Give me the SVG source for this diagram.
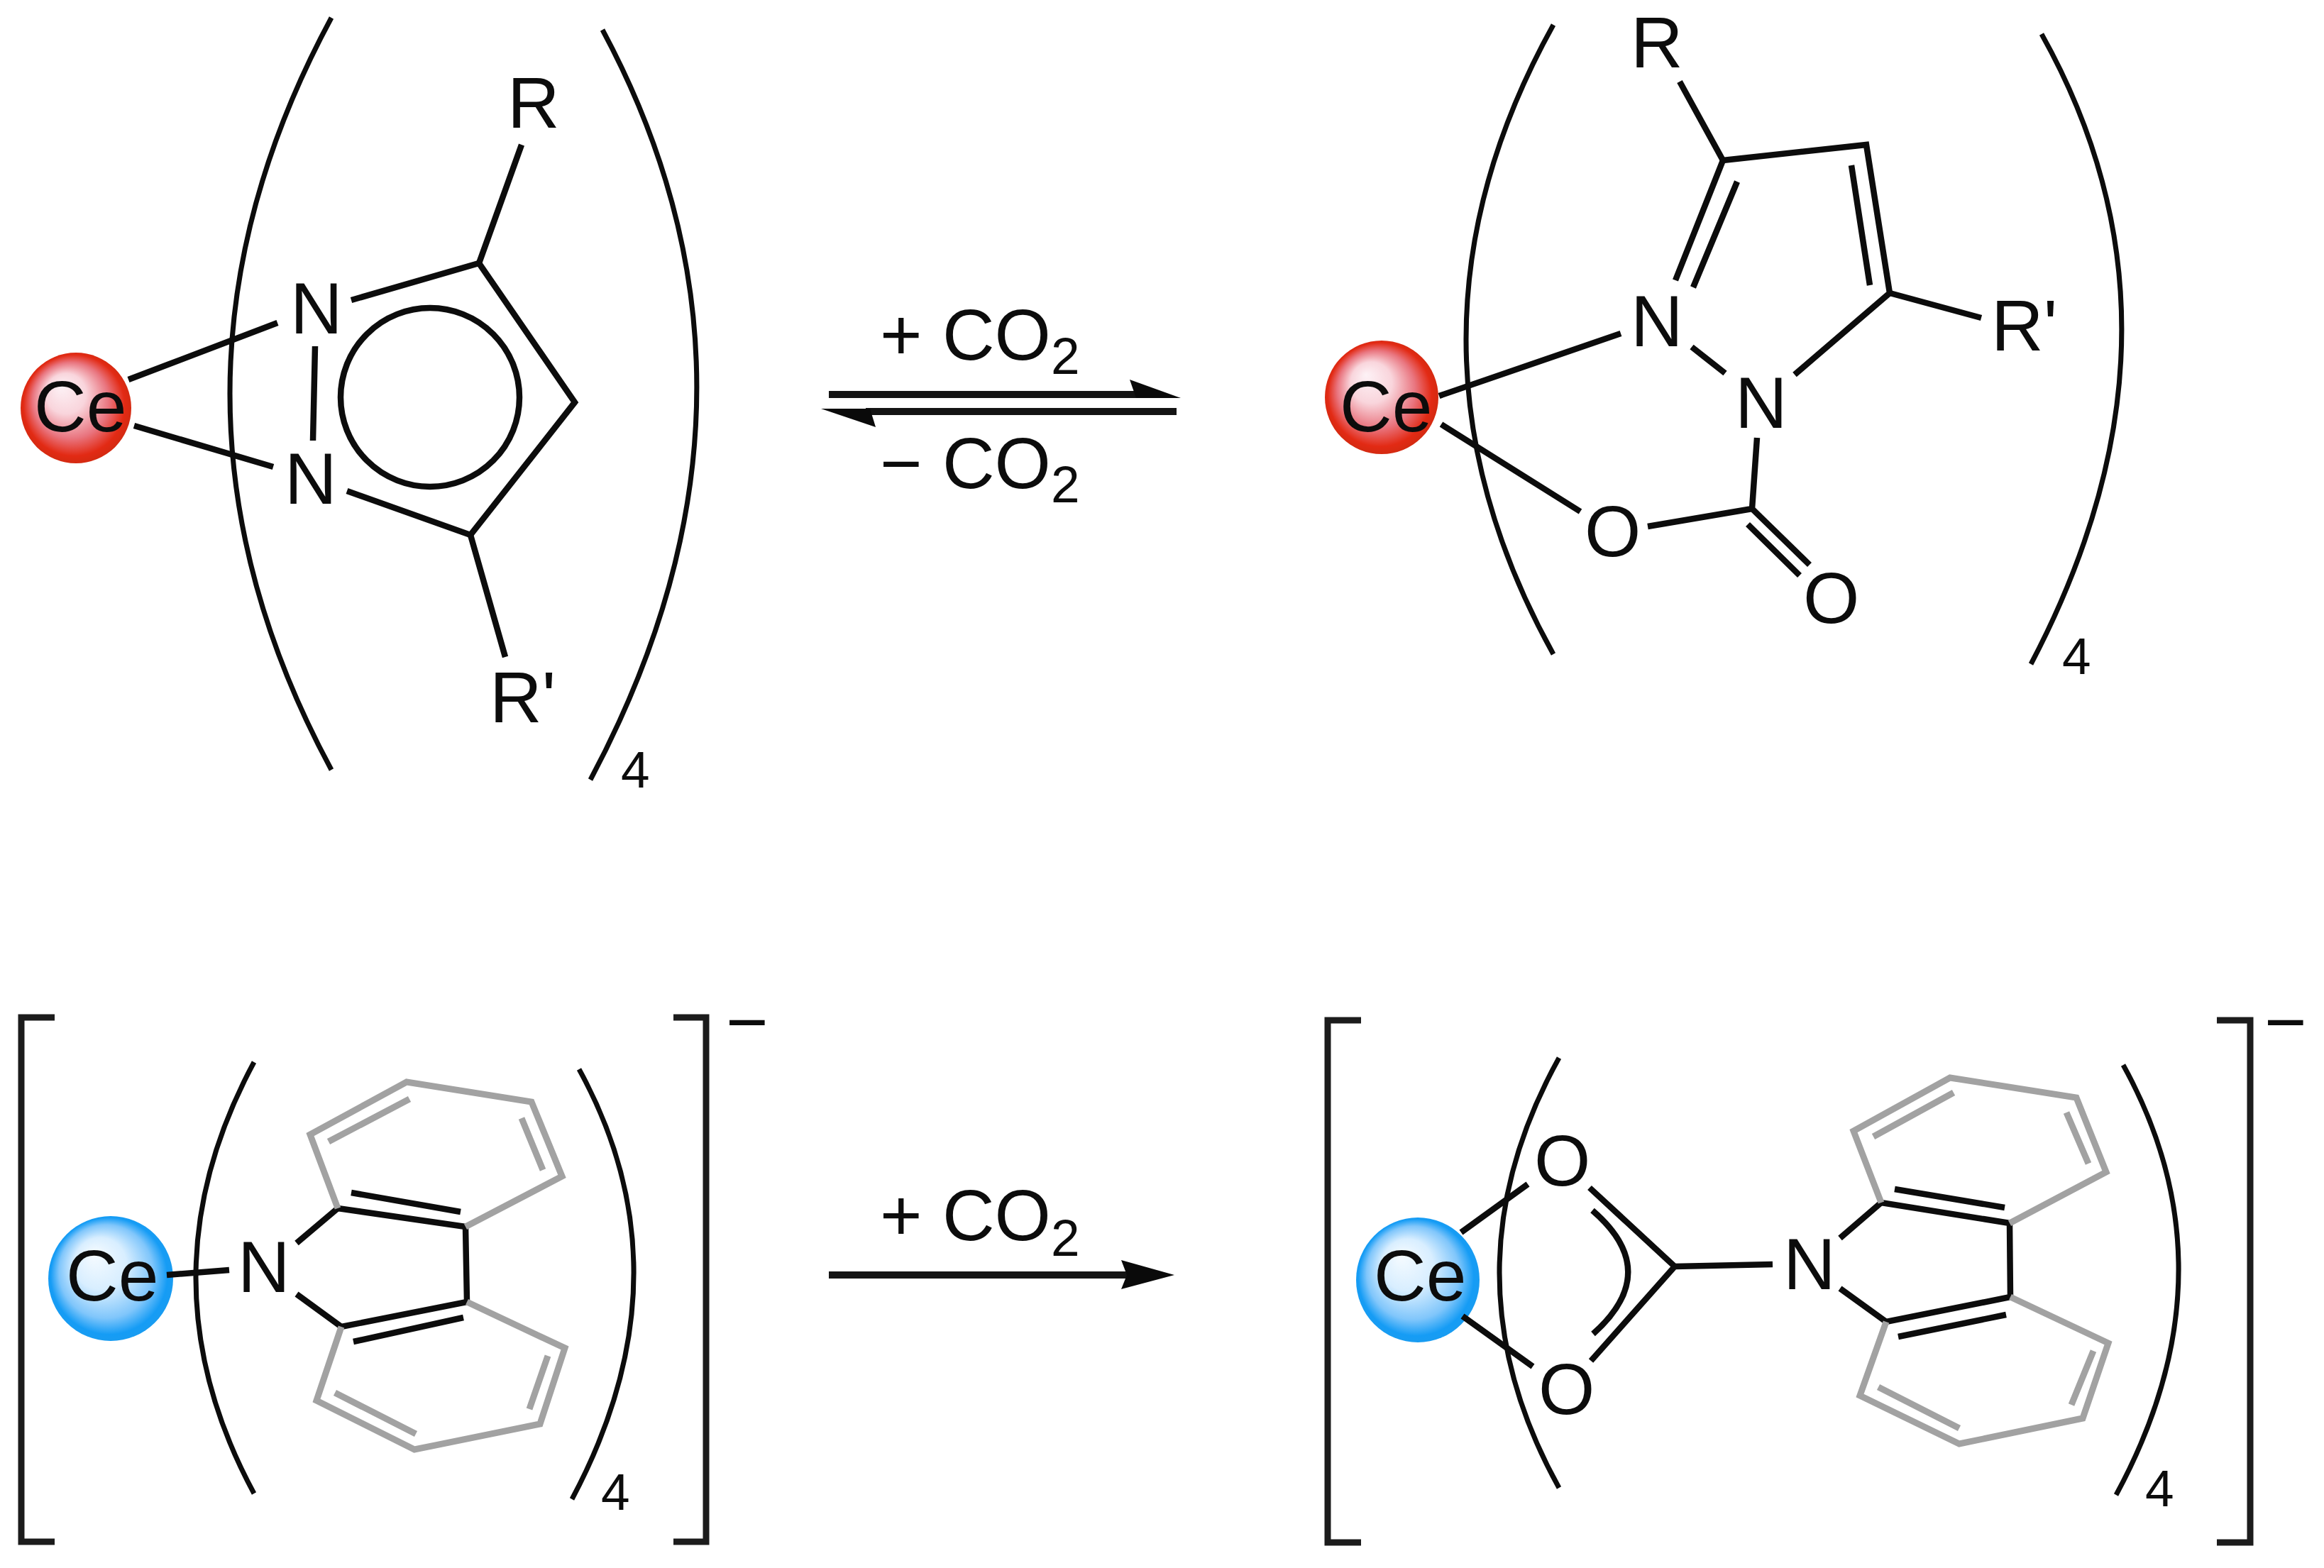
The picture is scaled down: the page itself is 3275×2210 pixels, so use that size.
<svg xmlns="http://www.w3.org/2000/svg" width="3275" height="2210" viewBox="0 0 3275 2210">
<style>
.t{font-family:"Liberation Sans",Arial,sans-serif;font-size:102px;fill:#0c0c0c}
.s{font-size:73px}
.b{fill:none;stroke:#0c0c0c;stroke-width:8.5}
.p{fill:none;stroke:#0c0c0c;stroke-width:7}
.g{fill:none;stroke:#a2a2a2;stroke-width:9;stroke-linejoin:miter}
.br{fill:none;stroke:#1c1c1c;stroke-width:9}
.a{fill:#0a0a0a}
.l{fill:none;stroke:#141414;stroke-width:10}
</style>
<defs>
<radialGradient id="red" cx="0.5" cy="0.5" r="0.52" fx="0.36" fy="0.3">
<stop offset="0" stop-color="#fdf2f6"/><stop offset="0.35" stop-color="#f9d5dc"/><stop offset="0.66" stop-color="#e9757f"/><stop offset="0.88" stop-color="#e22a14"/><stop offset="1" stop-color="#d02a10"/>
</radialGradient>
<radialGradient id="blue" cx="0.5" cy="0.5" r="0.52" fx="0.36" fy="0.3">
<stop offset="0" stop-color="#f6fbff"/><stop offset="0.4" stop-color="#d8eeff"/><stop offset="0.72" stop-color="#80c6fb"/><stop offset="0.9" stop-color="#159cf5"/><stop offset="1" stop-color="#1a9cf0"/>
</radialGradient>
</defs>

<g id="ce-1"><circle cx="107" cy="575" r="78" fill="url(#red)"/><text class="t" x="48" y="608">Ce</text></g>
<g id="ce-2"><circle cx="1947" cy="560" r="80" fill="url(#red)"/><text class="t" x="1888" y="608">Ce</text></g>
<g id="ce-3"><circle cx="156" cy="1802" r="88" fill="url(#blue)"/><text class="t" x="93" y="1833">Ce</text></g>
<g id="ce-4"><ellipse cx="1998" cy="1804" rx="87" ry="88" fill="url(#blue)"/><text class="t" x="1936" y="1833">Ce</text></g>

<g id="connectors">
<g id="brackets">
<path class="p" d="M467 25Q181 555 467 1085"/>
<path class="p" d="M849 42Q1123 553 832 1099"/>
<path class="p" d="M2189 35Q1943 478 2189 922"/>
<path class="p" d="M2877 48Q3110 464 2862 936"/>
<path class="p" d="M358 1497Q194 1801 358 2105"/>
<path class="p" d="M816 1507Q975 1796 806 2113"/>
<path class="p" d="M2197 1491Q2029 1794 2197 2097"/>
<path class="p" d="M2992 1501Q3153 1792 2982 2107"/>
<path class="br" d="M77 1434H30V2173H77"/>
<path class="br" d="M949 1434H995V2173H949"/>
<path class="br" d="M1918 1438H1871V2174H1918"/>
<path class="br" d="M3124 1438H3171V2174H3124"/>
</g>
<g id="bonds-1">
<path class="b" d="M181 535L391 455M189 600L385 658"/>
<path class="b" d="M495 423L675 371L810 567L663 754L489 692"/>
<path class="b" d="M444 488L441 621M735 204L675 371M663 754L712 926"/>
<circle class="b" cx="606" cy="560" r="126"/>
</g>
<g id="bonds-2">
<path class="b" d="M2028 558L2284 470M2031 598L2227 721"/>
<path class="b" d="M2361 395L2428 226L2630 204L2663 413L2529 528"/>
<path class="b" d="M2448 256L2386 405M2609 233L2635 402M2367 115L2428 226M2663 413L2792 448M2384 489L2431 526"/>
<path class="b" d="M2476 617L2469 717L2322 742M2469 717L2550 796M2463 739L2536 811"/>
</g>
<g id="bonds-3">
<path class="b" d="M235 1797L323 1790"/>
<path class="b" d="M418 1752L476 1703L656 1729L658 1835L481 1870L418 1824"/>
<path class="b" d="M495 1681L649 1708M498 1891L653 1857"/>
<path class="g" d="M476 1703L437 1599L573 1525L749 1553L792 1658L656 1729"/>
<path class="g" d="M463 1609L577 1549M735 1576L765 1649"/>
<path class="g" d="M481 1870L446 1974L584 2043L761 2007L796 1900L658 1835"/>
<path class="g" d="M472 1963L586 2021M746 1986L772 1911"/>
</g>
<g id="bonds-4">
<path class="b" d="M2059 1737L2153 1669M2061 1855L2160 1926"/>
<path class="b" d="M2240 1674L2360 1785L2242 1918M2360 1785L2498 1782"/>
<path class="b" d="M2244 1706Q2344 1792 2245 1880"/>
<path class="b" d="M2593 1745L2651 1695L2832 1724L2833 1828L2658 1863L2593 1816"/>
<path class="b" d="M2670 1676L2825 1702M2675 1884L2827 1853"/>
<path class="g" d="M2651 1695L2612 1594L2748 1519L2926 1547L2968 1652L2832 1724"/>
<path class="g" d="M2640 1602L2753 1540M2912 1568L2943 1640"/>
<path class="g" d="M2658 1863L2621 1967L2761 2035L2935 1999L2971 1893L2833 1828"/>
<path class="g" d="M2647 1955L2761 2013M2919 1980L2950 1904"/>
</g>
<g id="arrow-equilibrium">
<path class="l" d="M1168 556H1610"/>
<polygon class="a" points="1664,561 1592,535 1601,561"/>
<path class="l" d="M1658 580H1220"/>
<polygon class="a" points="1157,576 1234,602 1226,576"/>
</g>
<g id="arrow-forward">
<path class="l" d="M1168 1797H1595"/>
<polygon class="a" points="1655,1797 1580,1776 1588,1797 1580,1817"/>
</g>
</g>

<g id="labels-1">
<text class="t" x="715" y="180">R</text>
<text class="t" x="690" y="1018">R'</text>
<text class="t" x="409" y="470">N</text>
<text class="t" x="401" y="710">N</text>
<text class="t s" x="875" y="1110">4</text>
</g>
<g id="labels-2">
<text class="t" x="2298" y="95">R</text>
<text class="t" x="2806" y="494">R'</text>
<text class="t" x="2298" y="488">N</text>
<text class="t" x="2445" y="603">N</text>
<text class="t" x="2233" y="784">O</text>
<text class="t" x="2541" y="878">O</text>
<text class="t s" x="2906" y="950">4</text>
</g>
<g id="labels-3">
<text class="t" x="335" y="1821">N</text>
<text class="t s" x="847" y="2128">4</text>
<text class="t" x="1023" y="1475">−</text>
</g>
<g id="labels-4">
<text class="t" x="2513" y="1817">N</text>
<text class="t" x="2162" y="1671">O</text>
<text class="t" x="2168" y="1993">O</text>
<text class="t s" x="3023" y="2123">4</text>
<text class="t" x="3191" y="1475">−</text>
</g>
<g id="reagents">
<text class="t" x="1240" y="507">+ CO<tspan class="s" dy="20">2</tspan></text>
<text class="t" x="1240" y="688">− CO<tspan class="s" dy="20">2</tspan></text>
<text class="t" x="1240" y="1748">+ CO<tspan class="s" dy="22">2</tspan></text>
</g>
</svg>
